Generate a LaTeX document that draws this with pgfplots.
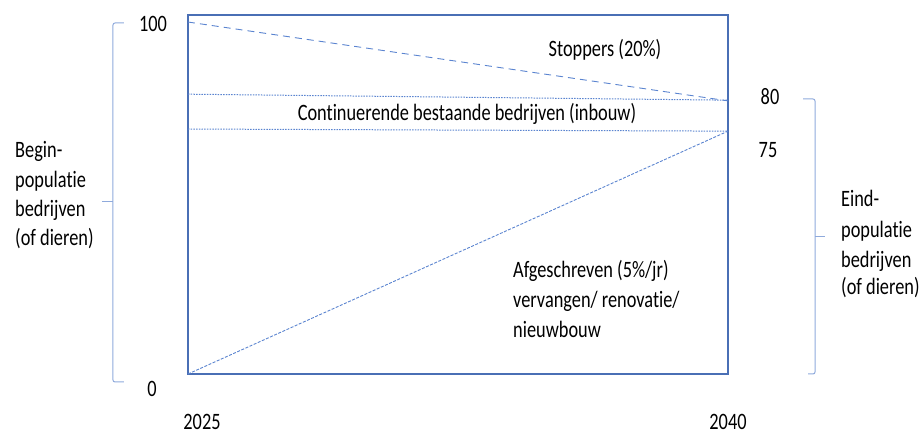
\documentclass[border=0pt]{standalone}
\usepackage{fontspec}
\setmainfont{Carlito}[FakeStretch=0.78, Ligatures=NoCommon]
\usepackage{pgfplots}
\pgfplotsset{compat=1.18}
\definecolor{boxblue}{HTML}{4A6FB5}
\definecolor{lineblue}{HTML}{5B84D0}
\definecolor{lightblue}{HTML}{8FAADC}
\begin{document}
\begin{tikzpicture}[x=1pt,y=1pt]
\useasboundingbox (-188,-64) rectangle (731,374);
\begin{axis}[
  scale only axis, width=540pt, height=359pt,
  xmin=2025, xmax=2040, ymin=0, ymax=102,
  xtick=\empty, ytick=\empty,
  axis line style={boxblue, line width=1.4pt},
  clip=false,
]
\addplot[lineblue, line width=0.9pt, dash pattern=on 7pt off 5pt] coordinates {(2025,100) (2040,77.6)};
\addplot[lineblue, line width=1pt, dash pattern=on 1.5pt off 1.2pt] coordinates {(2025,79.5) (2040,77.8)};
\addplot[lineblue, line width=1pt, dash pattern=on 1.5pt off 1.2pt] coordinates {(2025,69.6) (2040,69.0)};
\addplot[lineblue, line width=0.9pt, dash pattern=on 3pt off 1.5pt] coordinates {(2025,0) (2040,69.0)};
\end{axis}
\tikzset{t/.style={font=\fontsize{23.5}{30}\selectfont, inner sep=0pt}}
% tick-like labels
\node[t, anchor=base] at (153-188, 374-32) {100};
\node[t, anchor=base] at (152-188, 374-397) {0};
\node[t, anchor=base] at (202-188, 374-430) {2025};
\node[t, anchor=base] at (728-188, 374-430) {2040};
\node[t, anchor=base] at (770-188, 374-105) {80};
\node[t, anchor=base] at (768-188, 374-158) {75};
% inner labels
\node[t, anchor=base] at (605-188, 374-57) {Stoppers (20\%)};
\node[t, anchor=base] at (467-188, 374-121) {Continuerende bestaande bedrijven (inbouw)};
\node[t, anchor=base west] at (513-188, 374-278) {Afgeschreven (5\%/jr)};
\node[t, anchor=base west] at (513-188, 374-308) {vervangen/ renovatie/};
\node[t, anchor=base west] at (513-188, 374-338) {nieuwbouw};
% left block
\node[t, anchor=base west] at (15-188, 374-158) {Begin-};
\node[t, anchor=base west] at (15-188, 374-188) {populatie};
\node[t, anchor=base west] at (15-188, 374-217) {bedrijven};
\node[t, anchor=base west] at (15-188, 374-246) {(of dieren)};
% right block
\node[t, anchor=base west] at (841-188, 374-207) {Eind-};
\node[t, anchor=base west] at (841-188, 374-238) {populatie};
\node[t, anchor=base west] at (841-188, 374-268) {bedrijven};
\node[t, anchor=base west] at (841-188, 374-295) {(of dieren)};
% brackets
\draw[lightblue, line width=1pt, rounded corners=2pt] (-64,351) -- (-75,351) -- (-75,-8) -- (-64,-8);
\draw[lightblue, line width=1pt] (-86,172) -- (-75,172);
\draw[lightblue, line width=1pt, rounded corners=2pt] (615,275) -- (627,275) -- (627,0) -- (620,0);
\draw[lightblue, line width=1pt] (627,137) -- (637,137);
\end{tikzpicture}
\end{document}
